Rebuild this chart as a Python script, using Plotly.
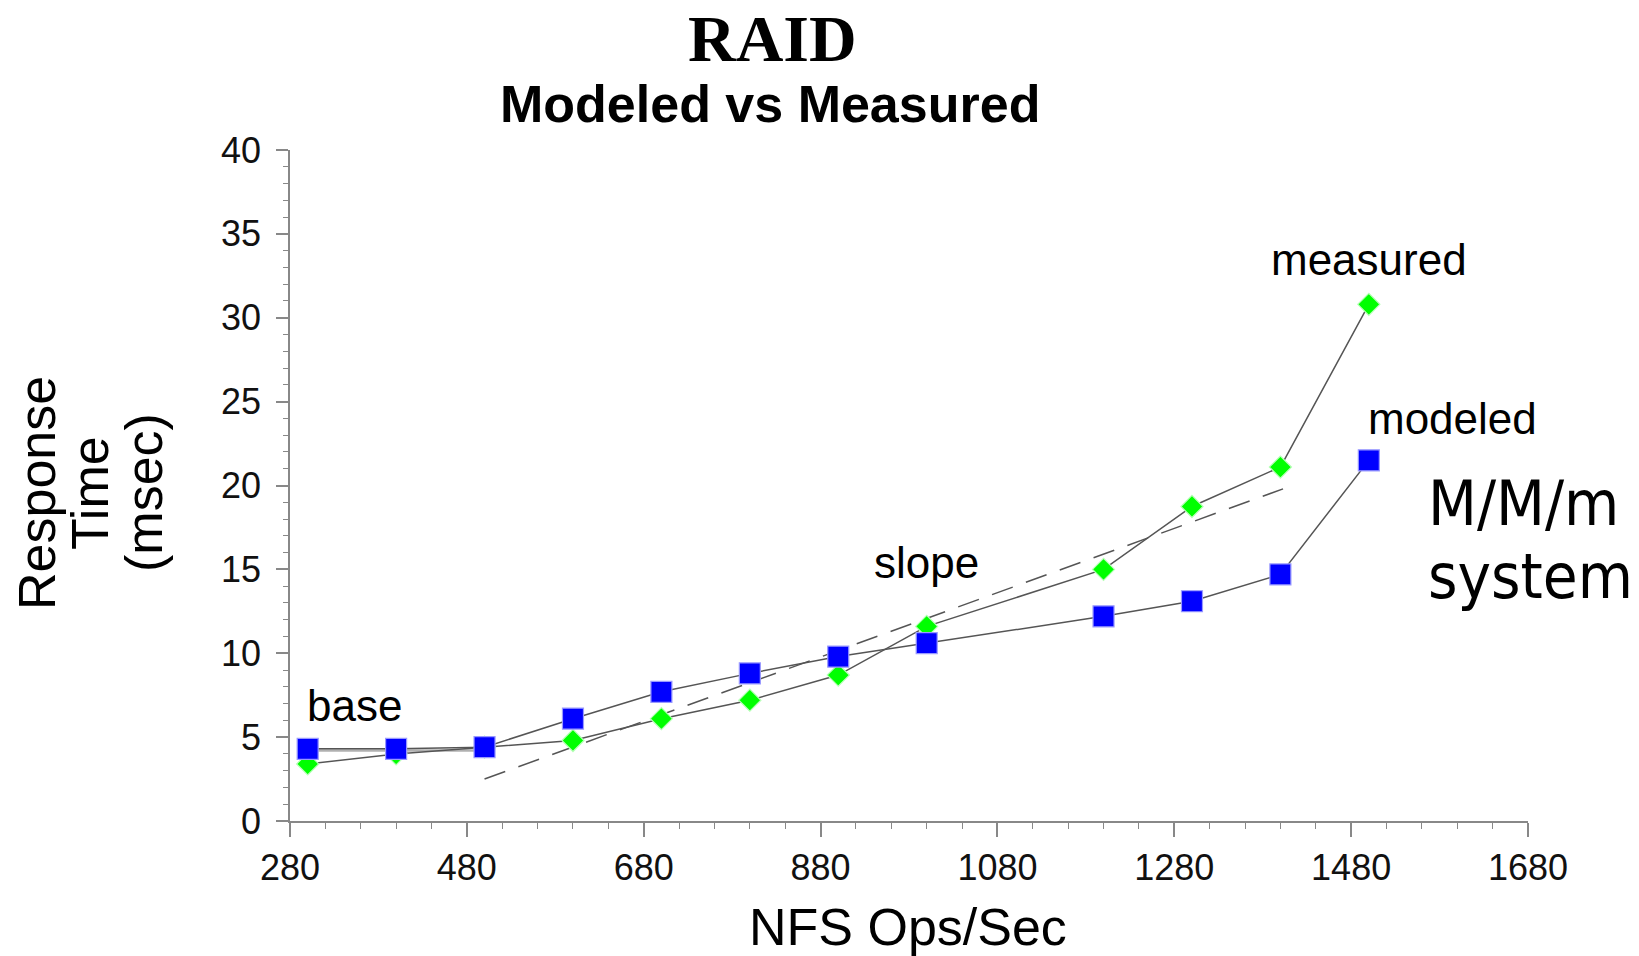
import plotly.graph_objects as go

# ---- data ----
ops = [300, 400, 500, 600, 700, 800, 900, 1000, 1200, 1300, 1400, 1500]
measured = [3.4, 4.0, 4.4, 4.8, 6.1, 7.2, 8.7, 11.6, 15.0, 18.75, 21.1, 30.8]
modeled = [4.3, 4.3, 4.4, 6.1, 7.7, 8.8, 9.8, 10.6, 12.2, 13.1, 14.7, 21.5]
slope_x = [500, 1403]
slope_y = [2.5, 19.8]
base_x = [300, 500]
base_y = [4.2, 4.2]

x_tickvals = [280, 480, 680, 880, 1080, 1280, 1480, 1680]
y_tickvals = [0, 5, 10, 15, 20, 25, 30, 35, 40]

W, H = 1639, 956
L, R, T, B = 290, 111, 150, 135
PW, PH = W - L - R, H - T - B

def px(xp):
    return (xp - L) / PW

def py(yp):
    return (H - B - yp) / PH

fig = go.Figure()

fig.add_trace(go.Scatter(x=base_x, y=base_y, mode="lines",
                         line=dict(color="#b0b0b0", width=2.5), hoverinfo="skip",
                         showlegend=False))
fig.add_trace(go.Scatter(x=slope_x, y=slope_y, mode="lines",
                         line=dict(color="#555555", width=1.5, dash="22px,14px"),
                         showlegend=False))
fig.add_trace(go.Scatter(x=ops, y=measured, mode="lines+markers", name="measured",
                         line=dict(color="#555555", width=1.5),
                         marker=dict(symbol="diamond", size=17, color="#00ff00",
                                     line=dict(color="#b8ffb8", width=1.2)),
                         showlegend=False))
fig.add_trace(go.Scatter(x=ops, y=modeled, mode="lines+markers", name="modeled",
                         line=dict(color="#555555", width=1.5),
                         marker=dict(symbol="square", size=21, color="#0000ff",
                                     line=dict(color="#9999ff", width=1.2)),
                         showlegend=False))

tickfont = dict(family="Liberation Sans, Arial, sans-serif", size=36, color="#111111")

fig.update_xaxes(range=[280, 1680], tickvals=x_tickvals,
                 ticktext=[str(v) for v in x_tickvals],
                 showgrid=False, zeroline=False, showline=True, linecolor="#888888",
                 linewidth=1.5, ticks="outside", ticklen=14, tickcolor="#888888",
                 tickwidth=1.5, tickfont=tickfont, ticklabelstandoff=0,
                 minor=dict(dtick=40, tick0=280, ticks="outside", ticklen=6,
                            tickcolor="#888888", tickwidth=1.2, showgrid=False))
fig.update_yaxes(range=[0, 40], tickvals=y_tickvals,
                 showgrid=False, zeroline=False, showline=True, linecolor="#888888",
                 linewidth=1.5, ticks="outside", ticklen=12, tickcolor="#888888",
                 tickwidth=1.5, tickfont=tickfont, ticklabelstandoff=8,
                 minor=dict(dtick=1, ticks="outside", ticklen=5,
                            tickcolor="#888888", tickwidth=1.2, showgrid=False))

sans = "Liberation Sans, Arial, sans-serif"
ann = []
# titles
ann.append(dict(text="<b>RAID</b>", x=px(772), y=py(38.5), xref="paper", yref="paper",
                showarrow=False, xanchor="center", yanchor="middle",
                font=dict(family="Liberation Serif, Times New Roman, serif", size=66, color="#000")))
ann.append(dict(text="<b>Modeled vs Measured</b>", x=px(770), y=py(104), xref="paper", yref="paper",
                showarrow=False, xanchor="center", yanchor="middle",
                font=dict(family=sans, size=52, color="#000")))
# axis titles
ann.append(dict(text="NFS Ops/Sec", x=px(908), y=py(927), xref="paper", yref="paper",
                showarrow=False, xanchor="center", yanchor="middle",
                font=dict(family=sans, size=52, color="#000")))
for txt, xc in [("Response", 37), ("Time", 90), ("(msec)", 144)]:
    ann.append(dict(text=txt, x=px(xc), y=py(493), xref="paper", yref="paper",
                    showarrow=False, xanchor="center", yanchor="middle", textangle=-90,
                    font=dict(family=sans, size=52, color="#000")))
# in-plot labels
for txt, xd, yd in [("base", 353, 6.86), ("slope", 1000, 15.4),
                    ("measured", 1500, 33.45), ("modeled", 1595, 24.0)]:
    ann.append(dict(text=txt, x=xd, y=yd, xref="x", yref="y", showarrow=False,
                    xanchor="center", yanchor="middle",
                    font=dict(family=sans, size=44, color="#000")))
# side note
mm_font = dict(family="DejaVu Sans Condensed, DejaVu Sans, Verdana, sans-serif", size=63, color="#000")
ann.append(dict(text="M/M/m", x=px(1426), y=py(503), xref="paper", yref="paper",
                showarrow=False, xanchor="left", yanchor="middle", font=mm_font))
ann.append(dict(text="system", x=px(1426), y=py(576), xref="paper", yref="paper",
                showarrow=False, xanchor="left", yanchor="middle", font=mm_font))

fig.update_layout(width=W, height=H, margin=dict(l=L, r=R, t=T, b=B),
                  paper_bgcolor="white", plot_bgcolor="white",
                  annotations=ann, showlegend=False)

fig.write_html("out.html", config={"displayModeBar": False},
               post_script="document.body.style.margin='0';document.body.style.overflow='hidden';")
